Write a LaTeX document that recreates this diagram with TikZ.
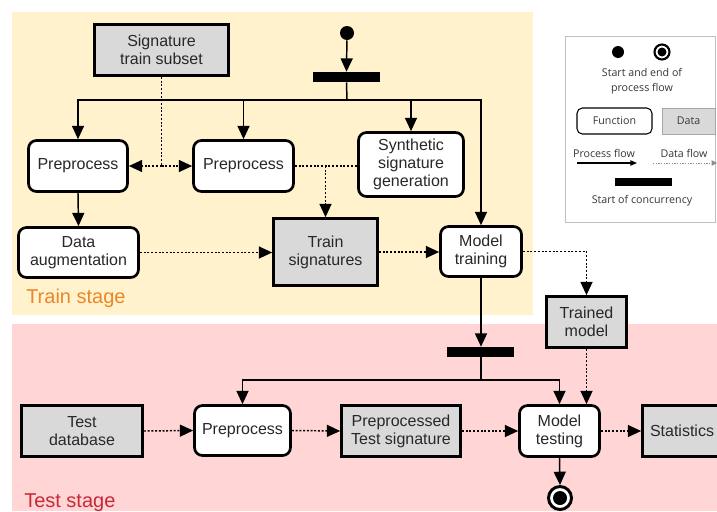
\documentclass[tikz,border=0pt]{standalone}
\usepackage{fontspec}
\setmainfont{Liberation Sans}
\newfontfamily\legfont{Open Sans}
\usetikzlibrary{arrows.meta}
\definecolor{trainbg}{RGB}{255,242,204}
\definecolor{testbg}{RGB}{255,213,213}
\definecolor{datagray}{RGB}{217,217,217}
\definecolor{trainlbl}{RGB}{236,134,40}
\definecolor{testlbl}{RGB}{200,40,55}
\definecolor{txtc}{RGB}{40,40,40}
\definecolor{legtxt}{RGB}{55,55,55}
\begin{document}
\begin{tikzpicture}[x=0.75pt,y=-0.75pt,
  sz/.style 2 args={minimum width=#1*0.75pt,minimum height=#2*0.75pt},
  mainfont/.style={font=\fontsize{12}{13.5}\selectfont,text=txtc},
  func/.style={draw=black,fill=white,line width=2pt,rounded corners=6pt,inner sep=0pt,align=center,mainfont},
  datab/.style={draw=black,fill=datagray,line width=2pt,inner sep=0pt,align=center,mainfont},
  barb/.style={fill=black,inner sep=0pt},
  flow/.style={line width=1.1pt,-{Triangle[length=10pt,width=9pt]}},
  dflow/.style={line width=1.1pt,dash pattern=on 1.5pt off 1.3pt,-{Triangle[length=10pt,width=9pt]}},
  dline/.style={line width=1.1pt,dash pattern=on 1.5pt off 1.3pt},
  sline/.style={line width=1.1pt},
  legtext/.style={font=\legfont\fontsize{8}{11}\selectfont,text=legtxt,align=center,inner sep=0pt}
]
\useasboundingbox (0,0) rectangle (717,511);
% backgrounds
\fill[trainbg] (12,12) rectangle (533,315);
\fill[testbg] (12,324) rectangle (717,511);

% stage labels
\node[anchor=base west,inner sep=0pt,font=\fontsize{15}{15}\selectfont,text=trainlbl] (trainlabel) at (26,303) {Train stage};
\node[anchor=base west,inner sep=0pt,font=\fontsize{15}{15}\selectfont,text=testlbl] (testlabel) at (24,507) {Test stage};

% train nodes
\node[datab,sz={134}{51}] (sts) at (161.5,50) {Signature\\train subset};
\node[circle,fill=black,inner sep=0pt,minimum size=14*0.75pt] (start) at (347,33) {};
\node[barb,sz={67}{10}] (bar1) at (346.5,77) {};
\node[func,sz={99}{51}] (pp1) at (78,166) {Preprocess};
\node[func,sz={100}{51}] (pp2) at (243.5,166) {Preprocess};
\node[func,sz={105}{64}] (syn) at (411,164.5) {Synthetic\\signature\\generation};
\node[func,sz={120}{50}] (aug) at (78.5,252.5) {Data\\augmentation};
\node[datab,sz={104}{67}] (ts) at (325.5,252) {Train\\signatures};
\node[func,sz={81}{50}] (mt) at (481,251.5) {Model\\training};
\node[datab,sz={80}{51}] (tm) at (586.5,322) {Trained\\model};
\node[barb,sz={67}{10}] (bar2) at (480.5,352) {};

% test nodes
\node[datab,sz={121}{51}] (td) at (82,431) {Test\\database};
\node[func,sz={96}{50}] (pp3) at (242.5,430.5) {Preprocess};
\node[datab,sz={119}{51}] (pts) at (401,431) {Preprocessed\\Test signature};
\node[func,sz={80}{51}] (mtest) at (559.5,431) {Model\\testing};
\node[datab,sz={79}{51}] (stat) at (682,431) {Statistics};
\node[circle,draw=black,line width=2.2pt,fill=white,inner sep=0pt,minimum size=23*0.75pt] (endn) at (560,498) {};
\node[circle,fill=black,inner sep=0pt,minimum size=14*0.75pt] (endin) at (endn.center) {};

% junction coordinates
\coordinate (j1) at (347,100);
\coordinate (j2) at (161.5,166);
\coordinate (j3) at (325.5,166);
\coordinate (j4) at (481,380);

% process flow (train)
\draw[flow] (start) -- (bar1.north);
\draw[sline] (bar1.south) -- (j1);
\draw[flow] (j1) -| (pp1.north);
\draw[flow] (j1) -| (pp2.north);
\draw[flow] (j1) -| (syn.north);
\draw[flow] (j1) -| (mt.north);
\draw[flow] (pp1.south) -- (aug.north);

% data flow (train)
\draw[dline] (sts.south) -- (j2);
\draw[dflow] (j2) -- (pp1.east);
\draw[dflow] (j2) -- (pp2.west);
\draw[dline] (pp2.east) -- (pp2.east -| syn.west);
\draw[dflow] (j3) -- (ts.north);
\draw[dflow] (aug.east) -- (aug.east -| ts.west);
\draw[dflow] (ts.east) -- (ts.east -| mt.west);
\draw[dflow] (mt.east) -| (tm.north);

% process flow (test)
\draw[flow] (mt.south) -- (mt.south |- bar2.north);
\draw[sline] (bar2.south -| j4) -- (j4);
\draw[flow] (j4) -| (pp3.north);
\draw[flow] (j4) -| (mtest.north);
\draw[flow] (mtest.south) -- (endn.north);

% data flow (test)
\draw[dflow] (tm.south) -- (tm.south |- mtest.north);
\draw[dflow] (td.east) -- (pp3.west);
\draw[dflow] (pp3.east) -- (pts.west);
\draw[dflow] (pts.east) -- (mtest.west);
\draw[dflow] (mtest.east) -- (stat.west);

% legend
\node[draw=black!25,fill=white,line width=0.6pt,inner sep=0pt,minimum width=150*0.75pt,minimum height=186*0.75pt] (legend) at (640,129) {};
\node[circle,fill=black,inner sep=0pt,minimum size=12*0.75pt] (ldot) at (618,52) {};
\node[circle,draw=black,line width=1.6pt,fill=white,inner sep=0pt,minimum size=15*0.75pt] (lend) at (662,52) {};
\node[circle,fill=black,inner sep=0pt,minimum size=9*0.75pt] (lendin) at (lend.center) {};
\node[legtext] (lstart) at (642,81) {Start and end of\\process flow};
\node[draw=black,line width=0.8pt,rounded corners=4pt,fill=white,minimum width=75*0.75pt,minimum height=26*0.75pt,inner sep=0pt,legtext] (lfunc) at (614.5,121) {Function};
\node[draw=black!35,line width=0.6pt,fill=datagray,minimum width=53*0.75pt,minimum height=26*0.75pt,inner sep=0pt,legtext] (ldata) at (688.5,121) {Data};
\node[legtext] (lpf) at (604,153) {Process flow};
\node[legtext] (ldf) at (684,153) {Data flow};
\coordinate (lpa) at (577,163);
\coordinate (lpb) at (637,163);
\coordinate (lda) at (653,163);
\coordinate (ldb) at (717,163);
\draw[line width=0.8pt,-{Triangle[length=5pt,width=4pt]}] (lpa) -- (lpb);
\draw[line width=0.6pt,draw=black!45,dash pattern=on 1pt off 1pt,-{Triangle[length=4pt,width=4pt]}] (lda) -- (ldb);
\node[barb,minimum width=57*0.75pt,minimum height=8*0.75pt] (lbar) at (643.5,182) {};
\node[legtext] (lconc) at (642,201) {Start of concurrency};
\end{tikzpicture}
\end{document}
